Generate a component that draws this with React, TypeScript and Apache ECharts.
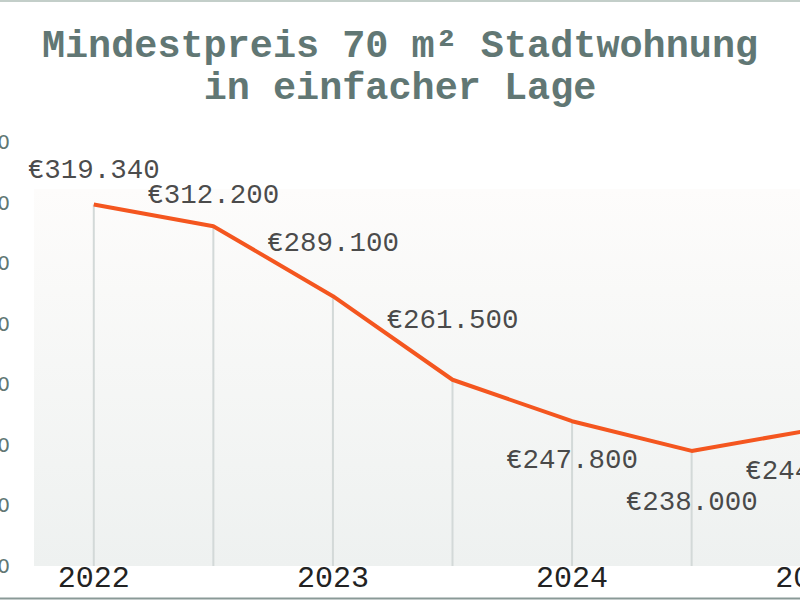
import React, { useEffect, useRef } from "react";
import * as echarts from "echarts";

const categories = ["2022", "2022 H2", "2023", "2023 H2", "2024", "2024 H2", "2025"];
const prices = [319340, 312200, 289100, 261500, 247800, 238000, 244900];
const labelPositions = ["top", "top", "top", "top", "bottom", "bottom", "bottom"];
const labelDistances = [20, 16, 38, 45, 25, 37, 27];
const yTicks = { min: 200000, max: 340000, interval: 20000 };

const fmt = (v: number) => "€" + Math.round(v).toLocaleString("de-DE");

export default function App() {
  const ref = useRef<HTMLDivElement>(null);
  useEffect(() => {
    if (!ref.current) return;
    const chart = echarts.init(ref.current, null, { renderer: "svg" });
    const mono = "'Liberation Mono', 'Courier New', monospace";
    chart.setOption({
      animation: false,
      backgroundColor: "#ffffff",
      title: {
        text: "Mindestpreis 70 m² Stadtwohnung\nin einfacher Lage",
        left: "center",
        top: 21,
        textStyle: {
          fontFamily: mono,
          fontSize: 38.5,
          fontWeight: "bold",
          color: "#617774",
          lineHeight: 42,
        },
      },
      grid: {
        left: 34,
        right: -71,
        top: 142,
        bottom: 34,
        containLabel: false,
        outerBoundsMode: "none",
      },
      xAxis: {
        type: "category",
        data: categories,
        boundaryGap: true,
        axisLine: { show: false },
        axisTick: { show: false },
        axisLabel: {
          interval: 1,
          margin: -2,
          formatter: (v: string) => v.slice(0, 4),
          fontFamily: mono,
          fontSize: 30,
          color: "#222222",
        },
      },
      yAxis: {
        type: "value",
        min: yTicks.min,
        max: yTicks.max,
        interval: yTicks.interval,
        splitLine: { show: false },
        axisLine: { show: false },
        axisTick: { show: false },
        axisLabel: {
          margin: 24,
          formatter: (v: number) => fmt(v),
          fontFamily: "'DejaVu Sans', sans-serif",
          fontSize: 20,
          color: "#617774",
        },
      },
      series: [
        {
          type: "line",
          data: [],
          z: 1,
          silent: true,
          markArea: {
            silent: true,
            itemStyle: {
              color: new echarts.graphic.LinearGradient(0, 0, 0, 1, [
                { offset: 0, color: "#fdfcfb" },
                { offset: 1, color: "#eef1f0" },
              ]),
            },
            data: [[{ yAxis: 324500 }, { yAxis: 200000 }]],
          },
        },
        {
          type: "bar",
          data: prices,
          barWidth: 2,
          z: 2,
          silent: true,
          itemStyle: { color: "#d3d9d8" },
        },
        {
          type: "line",
          data: prices,
          z: 3,
          symbol: "none",
          lineStyle: { color: "#f4561f", width: 4 },
        },
        {
          type: "scatter",
          data: prices.map((v, i) => ({
            value: v,
            label: {
              position: labelPositions[i],
              distance: labelDistances[i],
            },
          })),
          z: 4,
          symbolSize: 1,
          itemStyle: { color: "rgba(0,0,0,0)" },
          label: {
            show: true,
            formatter: (p: any) => fmt(p.value),
            fontFamily: mono,
            fontSize: 27.5,
            color: "#1a1a1a",
          },
        },
      ],
      graphic: [
        { type: "line", shape: { x1: 0, y1: 1, x2: 800, y2: 1 }, style: { stroke: "#c3cec9", lineWidth: 2 }, z: 100 },
        { type: "line", shape: { x1: 0, y1: 598.5, x2: 800, y2: 598.5 }, style: { stroke: "#8a9a97", lineWidth: 2 }, z: 100 },
      ],
    });
    return () => chart.dispose();
  }, []);
  return (
    <div style={{ position: "fixed", left: 0, top: 0, width: 800, height: 600, overflow: "hidden" }}>
      <div ref={ref} style={{ width: 800, height: 600 }} />
    </div>
  );
}
